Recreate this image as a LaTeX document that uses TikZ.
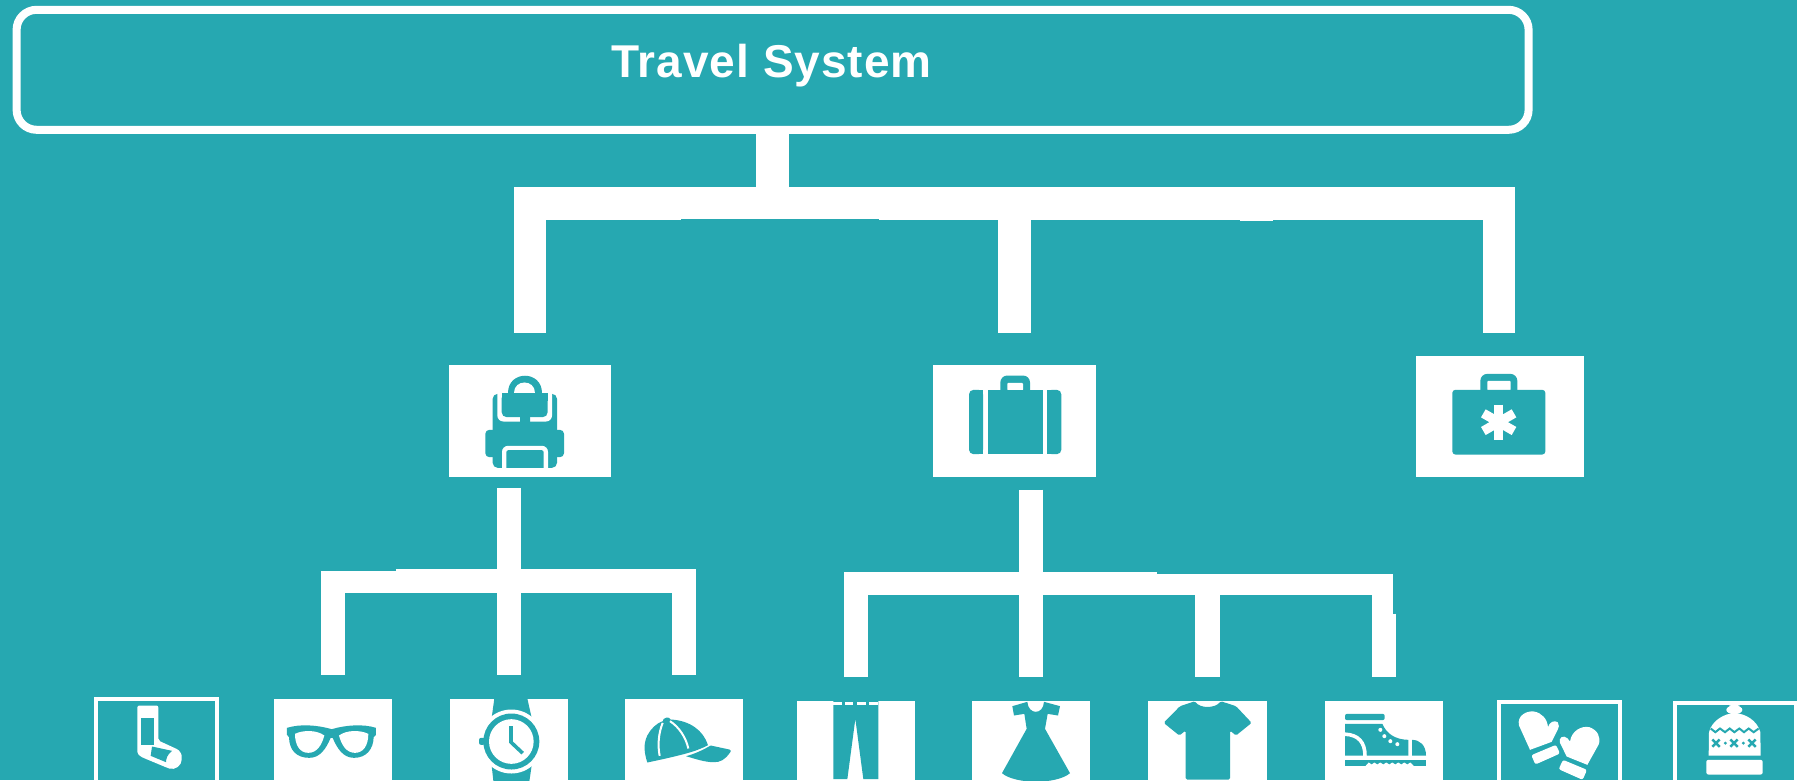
\documentclass[tikz,border=0pt]{standalone}
\usepackage{fontspec}
\setmainfont{Liberation Sans}
\definecolor{bg}{HTML}{26A8B1}
\tikzset{
  rootbox/.style={draw=white,line width=8pt,rounded corners=20pt,minimum width=1512pt,minimum height=120pt,inner sep=0pt,outer sep=0pt},
  whitebox/.style={fill=white,inner sep=0pt,outer sep=0pt,anchor=north west},
  linebox/.style={draw=white,line width=4pt,inner sep=0pt,outer sep=0pt,anchor=north west},
  busA/.style={draw=white,line width=32.4pt,miter limit=10},
  busB/.style={draw=white,line width=23.4pt,miter limit=10},
  busC/.style={draw=white,line width=21pt,miter limit=10},
  crop/.style 2 args={shift={(#1,#2)},x=0.33333pt,y=-0.33333pt}
}
\begin{document}
\begin{tikzpicture}[x=1pt,y=-1pt]
\useasboundingbox (0,-0.5) rectangle (1797,779.5);
\clip (0,-0.5) rectangle (1797,779.5);
\fill[bg] (0,-0.5) rectangle (1797,779.5);

% nodes
\node[rootbox] (root) at (772.6,69.3) {};
\node[anchor=base,text=white,font=\bfseries\fontsize{46}{46}\selectfont\addfontfeature{LetterSpace=2.2},inner sep=0pt] (title) at (771.5,77.3) {Travel System};
\node[whitebox,minimum width=161.4pt,minimum height=112.7pt] (pack) at (449.3,364) {};
\node[whitebox,minimum width=162.7pt,minimum height=112.7pt] (case) at (933.3,364) {};
\node[whitebox,minimum width=168pt,minimum height=121.7pt] (aid) at (1416,355) {};
\node[linebox,minimum width=121pt,minimum height=90pt] (socks) at (96,698.7) {};
\node[whitebox,minimum width=118pt,minimum height=90pt] (glasses) at (274,698) {};
\node[whitebox,minimum width=118pt,minimum height=90pt] (watch) at (450,698) {};
\node[whitebox,minimum width=118pt,minimum height=90pt] (cap) at (625,698) {};
\node[whitebox,minimum width=118pt,minimum height=90pt] (pants) at (797,700) {};
\node[whitebox,minimum width=118pt,minimum height=90pt] (dress) at (972,700) {};
\node[whitebox,minimum width=119pt,minimum height=90pt] (shirt) at (1148,700) {};
\node[whitebox,minimum width=118pt,minimum height=90pt] (boots) at (1325,700) {};
\node[linebox,minimum width=121pt,minimum height=90pt] (mitts) at (1499,701) {};
\node[linebox,minimum width=121pt,minimum height=90pt] (hat) at (1675,702) {};

% upper connectors
\coordinate (hub) at (772.6,203);
\draw[busA] (root.south) -- (hub);
\draw[busA,shorten <=32pt,shorten >=23pt] (pack.north) |- (hub) -| ([xshift=-1.2pt]aid.north);
\draw[busA,shorten >=32pt] (case.north |- hub) -- (case.north);
\fill[bg] (681,218) rectangle (879,219.2);
\fill[white] (1240,218) rectangle (1273,220);

% left group connectors
\coordinate (hubB) at (508.5,580.65);
\draw[busB,shorten <=24pt,shorten >=24pt] (glasses.north) |- (hubB) -| (cap.north);
\draw[busB,shorten <=10.6pt,shorten >=24pt] (watch.north |- pack.south) -- (watch.north);
\fill[bg] (320,568) rectangle (396,570);

% right group connectors
\coordinate (hubC) at (1157,583);
\coordinate (hubD) at (1157,583.5);
\coordinate (knee) at (1382.5,613);
\draw[busB,shorten <=23.3pt] (pants.north) |- (hubC);
\draw[busC] (hubD) -| (knee);
\draw[busB,shorten <=12.3pt,shorten >=23.3pt] (dress.north |- case.south) -- (dress.north);
\draw[busB,line width=24.4pt,shorten >=23.3pt] (shirt.north |- hubC) -- (shirt.north);
\draw[busB,line width=23.6pt,shorten >=24pt] (boots.north |- knee) -- (boots.north);

% backpack
\begin{scope}[crop={430}{340}]
  \fill[bg,rounded corners=5pt] (188,160) rectangle (381,382);
  \fill[bg,rounded corners=4pt] (166,268) rectangle (402,350);
  \fill[white,rounded corners=6pt] (202,140) rectangle (366,243);
  \fill[white] (195,140) rectangle (375,158);
  \fill[bg] (233,158) .. controls (233,88) and (335,88) .. (335,158) -- cycle;
  \fill[white] (253,158) .. controls (253,115) and (315,115) .. (315,158) -- cycle;
  \fill[bg,rounded corners=5pt] (215,158) rectangle (353,230);
  \fill[bg] (215,158) rectangle (353,180);
  \fill[bg,rounded corners=2.5pt] (270,216) rectangle (300,258);
  \fill[white,rounded corners=6pt] (216,316) rectangle (354,400);
  \fill[bg,rounded corners=2pt] (229,329) rectangle (341,395);
  \fill[white] (216,382) rectangle (354,402);
\end{scope}

% suitcase
\begin{scope}[crop={920}{340}]
  \fill[bg,rounded corners=7pt] (241,105) rectangle (330,170);
  \fill[white,rounded corners=1pt] (262,127) rectangle (309,150);
  \fill[bg] (203,148) rectangle (369,341);
  \fill[bg,rounded corners=4.5pt] (147,148) rectangle (189,341);
  \fill[bg] (170,148) rectangle (189,341);
  \fill[bg,rounded corners=4.5pt] (382,148) rectangle (424,341);
  \fill[bg] (382,148) rectangle (400,341);
\end{scope}

% first-aid case
\begin{scope}[crop={1400}{340}]
  \fill[bg,rounded corners=7pt] (241,100) rectangle (352,170);
  \fill[white,rounded corners=1pt] (262,121) rectangle (332,150);
  \fill[bg,rounded corners=3pt] (157,148) rectangle (436,342);
  \draw[white,line width=9.3pt] (296,192) -- (296,297);
  \draw[white,line width=9.3pt] (250,218.5) -- (342,271.5);
  \draw[white,line width=9.3pt] (250,271.5) -- (342,218.5);
\end{scope}

% sock
\begin{scope}[crop={80}{680}]
  \fill[white,rounded corners=2pt] (172,75) -- (235,75) -- (235,180) -- (285,203) .. controls (300,210) and (305,222) .. (305,232) .. controls (305,255) and (285,270) .. (262,262) -- (190,232) .. controls (178,226) and (172,220) .. (172,208) -- cycle;
  \fill[bg] (184,113) rectangle (223,194);
  \fill[bg] (216,198) -- (276,211) .. controls (262,222) and (258,235) .. (258,245) -- (212,226) -- cycle;
\end{scope}

% glasses
\begin{scope}[crop={80}{680}]
  \fill[bg] (621,142) .. controls (660,130) and (710,133) .. (755,146) .. controls (800,133) and (850,130) .. (888,142) -- (888,163) -- (881,170) .. controls (880,205) and (860,232) .. (822,232) .. controls (790,232) and (772,205) .. (758,172) -- (752,172) .. controls (738,205) and (720,232) .. (688,232) .. controls (650,232) and (628,210) .. (627,170) -- (621,163) -- cycle;
  \fill[white] (645,160) .. controls (670,148) and (710,148) .. (733,165) .. controls (725,195) and (710,217) .. (685,217) .. controls (660,217) and (645,195) .. (645,160) -- cycle;
  \fill[white] (865,160) .. controls (840,148) and (800,148) .. (777,165) .. controls (785,195) and (800,217) .. (825,217) .. controls (850,217) and (865,195) .. (865,160) -- cycle;
\end{scope}

% watch
\begin{scope}[crop={440}{680}]
  \fill[bg] (163,54) -- (262,54) -- (275,112) -- (155,112) -- cycle;
  \fill[bg] (155,255) -- (275,255) -- (267,310) -- (161,310) -- cycle;
  \fill[white] (214,183) circle [radius=96];
  \fill[bg,rounded corners=2pt] (117,172) rectangle (135,193);
  \fill[bg] (214,183) circle [radius=84];
  \fill[white] (214,183) circle [radius=67];
  \draw[bg,line width=3.6pt,miter limit=10] (213,137) -- (213,185) -- (248,218);
\end{scope}

% cap
\begin{scope}[crop={440}{680}]
  \fill[bg] (622,246) .. controls (612,215) and (610,190) .. (622,165) .. controls (632,145) and (650,128) .. (668,122) .. controls (668,112) and (688,106) .. (692,117) .. controls (750,120) and (790,150) .. (804,194) .. controls (770,212) and (735,222) .. (622,246) -- cycle;
  \fill[bg] (812,195) -- (868,207) .. controls (875,209) and (873,213) .. (870,216) .. controls (855,238) and (840,246) .. (820,245) .. controls (795,245) and (765,235) .. (738,227) .. controls (765,220) and (790,208) .. (812,195) -- cycle;
  \draw[white,line width=2pt] (668,127) .. controls (655,160) and (653,195) .. (659,226);
  \draw[white,line width=2pt] (690,122) .. controls (718,140) and (738,172) .. (745,204);
\end{scope}

% trousers
\begin{scope}[crop={780}{680}]
  \fill[bg] (160,60) -- (295,60) -- (295,296) -- (250,296) -- (226,115) -- (202,296) -- (160,296) -- cycle;
  \fill[white] (160,65) rectangle (185,73);
  \fill[white] (195,65) rectangle (220,73);
  \fill[white] (232,65) rectangle (258,73);
  \fill[white] (268,65) rectangle (295,73);
\end{scope}

% dress
\begin{scope}[crop={780}{680}]
  \fill[bg] (697,77) -- (742,64) .. controls (745,104) and (790,104) .. (792,64) -- (840,77) -- (834,105) -- (803,100) -- (795,145) -- (870,278) .. controls (830,312) and (706,312) .. (666,278) -- (740,145) -- (733,100) -- (702,105) -- cycle;
\end{scope}

% shirt
\begin{scope}[crop={1130}{680}]
  \fill[bg,rounded corners=1.5pt] (195,62) .. controls (210,84) and (255,84) .. (272,62) -- (318,77) -- (365,127) -- (318,165) -- (300,150) -- (300,297) -- (167,297) -- (167,150) -- (148,165) -- (101,127) -- (150,77) -- cycle;
\end{scope}

% boot
\begin{scope}[crop={1130}{680}]
  \fill[bg,rounded corners=2pt] (645,100) rectangle (764,119);
  \fill[bg] (645,130) -- (757,130) .. controls (770,160) and (795,177) .. (835,178) -- (835,225) -- (645,225) -- cycle;
  \draw[white,line width=3.6pt] (645,161) .. controls (685,163) and (705,185) .. (705,226);
  \foreach \a/\b in {751/148,763/167,781/182,802/191}{\fill[white] (\a,\b) circle [radius=6];}
  \fill[bg] (846,178) .. controls (870,178) and (888,195) .. (888,225) -- (846,225) -- cycle;
  \fill[bg] (645,237) rectangle (888,255);
  \fill[white] (707,256) -- (716,246) -- (725,252) -- (733,246) -- (742,252) -- (751,246) -- (760,252) -- (769,246) -- (778,252) -- (787,246) -- (796,252) -- (805,246) -- (814,252) -- (823,246) -- (832,252) -- (841,246) -- (851,256) -- cycle;
\end{scope}

% mittens
\begin{scope}[crop={1470}{680}]
  \fill[white] (180,208) -- (147,135) .. controls (140,105) and (170,90) .. (192,93) .. controls (215,97) and (232,115) .. (234,140) .. controls (238,125) and (252,118) .. (263,125) .. controls (270,132) and (266,142) .. (263,148) -- (245,184) -- cycle;
  \fill[white,rounded corners=2pt] (184,224) -- (258,193) -- (270,219) -- (196,252) -- cycle;
  \fill[white] (290,228) -- (270,187) .. controls (264,172) and (280,162) .. (292,173) -- (300,183) .. controls (305,150) and (335,135) .. (358,140) .. controls (382,148) and (394,170) .. (386,192) -- (352,253) -- cycle;
  \fill[white,rounded corners=2pt] (279,238) -- (351,268) -- (338,298) -- (266,266) -- cycle;
\end{scope}

% hat
\begin{scope}[crop={1470}{680}]
  \fill[white,rounded corners=3pt] (778,72) rectangle (808,82);
  \fill[white] (793,88) ellipse [x radius=24, y radius=13];
  \fill[white] (716,225) -- (717,155) .. controls (725,120) and (765,98) .. (793,98) .. controls (825,98) and (862,120) .. (871,155) -- (872,225) -- cycle;
  \draw[bg,line width=2pt] (722,144) -- (736,155) -- (750,144) -- (765,155) -- (779,144) -- (793,155) -- (808,144) -- (822,155) -- (836,144) -- (851,155) -- (866,144);
  \foreach \c in {738,792,846}{\draw[bg,line width=2.4pt] (\c-11,177) -- (\c+11,199) (\c-11,199) -- (\c+11,177);}
  \foreach \c in {766,820}{\fill[bg] (\c,188) circle [radius=5];}
  \fill[white,rounded corners=2pt] (709,238) rectangle (878,282);
\end{scope}
\end{tikzpicture}
\end{document}
